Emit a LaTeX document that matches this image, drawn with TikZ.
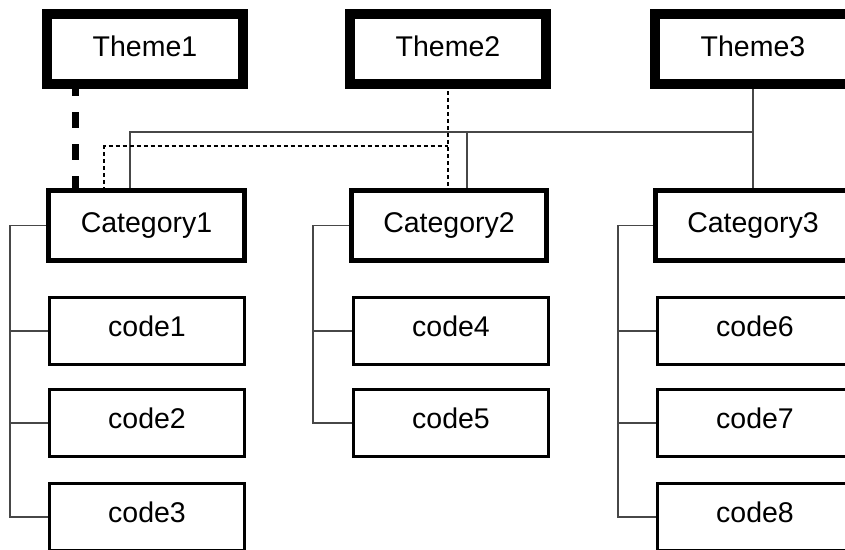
\documentclass[tikz,border=0pt]{standalone}
\usepackage{fontspec}
\setmainfont{Liberation Sans}
\usetikzlibrary{backgrounds}
\begin{document}
\begin{tikzpicture}[x=1pt, y=-1pt,
  box/.style={draw, rectangle, fill=white, inner sep=0pt, outer sep=0pt,
    minimum width=196pt, minimum height=70pt,
    font=\fontsize{28.5}{34}\selectfont, text height=20pt, text depth=6pt},
  theme/.style={box, line width=10pt},
  category/.style={box, line width=5pt, text depth=6.5pt},
  codebox/.style={box, line width=3pt, minimum width=195pt, minimum height=67pt, text depth=10pt},
  link/.style={draw=black!72, line width=1.3pt},
  dotlink/.style={draw=black, line width=1.8pt, dash pattern=on 4pt off 3pt},
  heavylink/.style={draw=black, line width=7pt, dash pattern=on 16pt off 16pt, dash phase=4pt}]

  \useasboundingbox (0,0) rectangle (845,549);
  \clip (0,0) rectangle (845,549);

  % themes
  \node[theme] (t1) at (145,49) {Theme1};
  \node[theme] (t2) at (448,49) {Theme2};
  \node[theme] (t3) at (753,49) {Theme3};

  % categories
  \node[category] (c1) at (146.5,225.5) {Category1};
  \node[category, minimum width=195pt] (c2) at (449,225.5) {Category2};
  \node[category] (c3) at (753,225.5) {Category3};

  % codes
  \node[codebox] (k1) at (147,331) {code1};
  \node[codebox] (k2) at (147,423) {code2};
  \node[codebox] (k3) at (147,517) {code3};
  \node[codebox] (k4) at (451,331) {code4};
  \node[codebox] (k5) at (451,423) {code5};
  \node[codebox] (k6) at (755,331) {code6};
  \node[codebox] (k7) at (755,423) {code7};
  \node[codebox] (k8) at (755,517) {code8};

  % junction points and tree rails
  \coordinate (j3) at (753,132);
  \coordinate (j2) at (467,132);
  \coordinate (d2) at (448,146);
  \coordinate (r1) at (10,0);
  \coordinate (r2) at (313,0);
  \coordinate (r3) at (618,0);

  \begin{scope}[on background layer]
    % theme to category links
    \draw[heavylink] ([xshift=28.5pt]t1.south west) -- ([xshift=27pt]c1.north west);
    \draw[link] ([xshift=81.5pt]c1.north west) |- (j3);
    \draw[link] (t3.south) -- (c3.north);
    \draw[link] (j2) -- (j2 |- c2.north);
    \draw[dotlink] (t2.south) -- (t2.south |- c2.north);
    \draw[dotlink] ([xshift=55.5pt]c1.north west) |- (d2);

    % category to code trees
    \draw[link] (c1.west) -- (c1.west -| r1) -- (k3.west -| r1) -- (k3.west);
    \draw[link] (k1.west -| r1) -- (k1.west);
    \draw[link] (k2.west -| r1) -- (k2.west);

    \draw[link] (c2.west) -- (c2.west -| r2) -- (k5.west -| r2) -- (k5.west);
    \draw[link] (k4.west -| r2) -- (k4.west);

    \draw[link] (c3.west) -- (c3.west -| r3) -- (k8.west -| r3) -- (k8.west);
    \draw[link] (k6.west -| r3) -- (k6.west);
    \draw[link] (k7.west -| r3) -- (k7.west);
  \end{scope}
\end{tikzpicture}
\end{document}
